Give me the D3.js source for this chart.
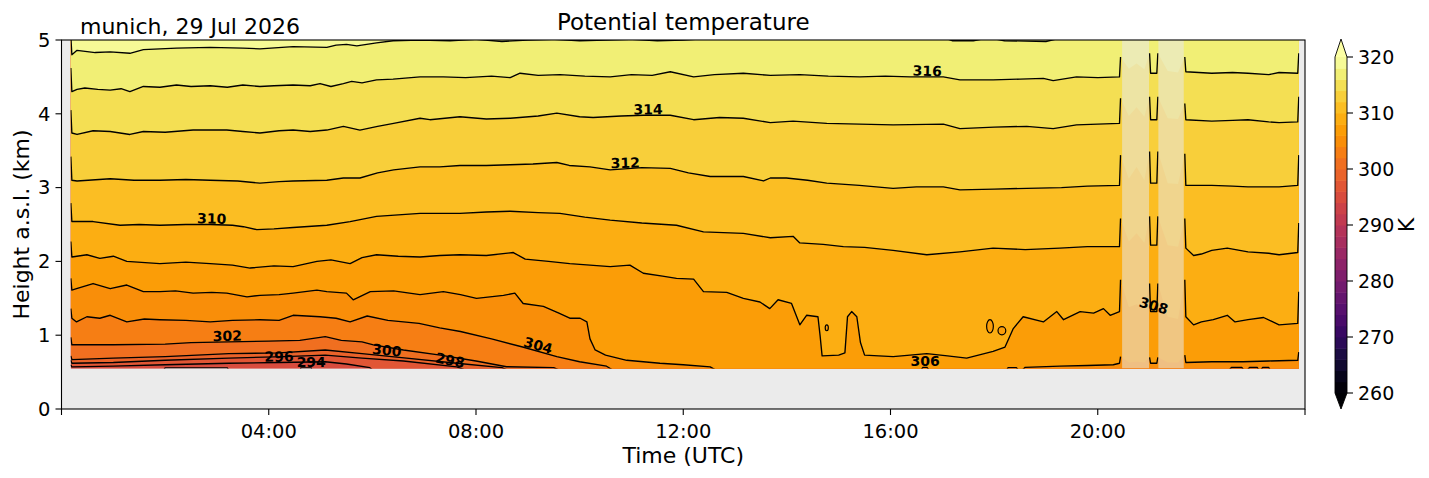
<!DOCTYPE html>
<html>
<head>
<meta charset="utf-8">
<script src="https://cdn.jsdelivr.net/npm/d3@7"></script>
<style>
  body { margin: 0; background: #fff; }
  text { font-family: "DejaVu Sans", sans-serif; fill: #000; }
</style>
</head>
<body>
<svg id="chart"></svg>
<script>
// axis ticks
const tickHours = [0, 4, 8, 12, 16, 20, 24];
const tickLabels = ["", "04:00", "08:00", "12:00", "16:00", "20:00", ""];
const heightTicks = [0, 1, 2, 3, 4, 5];
const colorTicks = [260, 270, 280, 290, 300, 310, 320];

// data extent (hours UTC, km)
const dataStart = 0.18, dataEnd = 23.88, dataBottom = 0.55;
// periods with no valid profile (shaded)
const maskedHours = [[20.47, 20.99], [21.17, 21.66]];

// height (km) of each isentrope against time (h)
const theta294 = [[0.18,0.5],[1.95,0.5],[2.0,0.557],[3.2,0.557],[3.25,0.5],[4.6,0.5],[4.62,0.557],[4.82,0.557],[4.84,0.5],[23.88,0.5]];
const theta296 = [[0.18,0.6],[0.2,0.57],[1.0,0.58],[2.0,0.6],[3.23,0.62],[4.2,0.63],[5.09,0.64],[5.5,0.61],[5.95,0.56],[6.05,0.5],[23.88,0.5]];
const theta298 = [[0.18,0.66],[0.2,0.62],[1.0,0.63],[2.0,0.66],[3.23,0.69],[4.3,0.71],[5.09,0.73],[5.8,0.69],[6.6,0.65],[7.63,0.57],[7.9,0.5],[23.88,0.5]];
const theta300 = [[0.18,0.72],[0.2,0.67],[1.0,0.69],[2.0,0.71],[3.23,0.75],[4.2,0.76],[5.09,0.8],[5.8,0.75],[6.66,0.69],[7.63,0.62],[8.5,0.56],[8.7,0.5],[23.88,0.5]];
const theta302 = [[0.18,0.97],[0.2,0.87],[1.0,0.87],[2.0,0.88],[2.5,0.9],[3.23,0.91],[4.0,0.92],[4.6,0.93],[5.09,0.98],[5.4,0.93],[5.8,0.91],[6.02,0.87],[6.6,0.8],[7.31,0.73],[8.0,0.65],[8.59,0.573],[9.5,0.56],[9.7,0.5],[23.88,0.5]];
const theta304 = [[0.18,1.36],[0.2,1.23],[0.29,1.18],[0.49,1.25],[0.74,1.23],[0.94,1.27],[1.26,1.18],[1.6,1.22],[1.9,1.21],[2.4,1.2],[2.87,1.18],[3.3,1.2],[3.83,1.21],[4.2,1.2],[4.47,1.27],[4.99,1.25],[5.3,1.23],[5.57,1.18],[5.9,1.26],[6.3,1.2],[6.9,1.16],[7.3,1.1],[7.7,1.05],[8.3,0.95],[8.9,0.84],[9.56,0.71],[10.0,0.64],[10.52,0.58],[10.7,0.5],[22.5,0.5],[22.58,0.562],[22.78,0.562],[22.85,0.5],[22.93,0.562],[23.08,0.562],[23.13,0.5],[23.18,0.562],[23.3,0.562],[23.35,0.5],[23.88,0.5]];
const theta306 = [[0.18,1.77],[0.2,1.61],[0.29,1.63],[0.61,1.7],[0.94,1.63],[1.26,1.68],[1.58,1.59],[1.9,1.59],[2.2,1.6],[2.54,1.57],[2.9,1.58],[3.19,1.57],[3.58,1.52],[3.83,1.54],[4.2,1.55],[4.47,1.57],[4.93,1.61],[5.12,1.59],[5.5,1.57],[5.63,1.48],[5.96,1.59],[6.41,1.6],[6.92,1.55],[7.37,1.59],[7.7,1.55],[8.01,1.5],[8.53,1.54],[8.75,1.57],[8.91,1.43],[9.3,1.39],[9.6,1.3],[9.81,1.23],[10.01,1.23],[10.14,1.18],[10.2,0.95],[10.3,0.8],[10.5,0.73],[10.91,0.66],[11.55,0.62],[12.0,0.6],[12.52,0.57],[12.7,0.5],[16.55,0.5],[16.63,0.565],[16.7,0.565],[16.78,0.5],[18.22,0.5],[18.27,0.56],[18.43,0.56],[18.5,0.5],[18.6,0.565],[19.27,0.58],[19.8,0.59],[20.3,0.6],[20.42,0.62],[20.44,0.71],[20.6,0.63],[20.75,0.64],[20.9,0.63],[21.0,0.7],[21.02,0.62],[21.14,0.62],[21.16,0.7],[21.35,0.63],[21.55,0.63],[21.68,0.73],[21.7,0.63],[22.2,0.64],[22.8,0.64],[23.3,0.65],[23.86,0.66],[23.88,0.77]];
const theta308 = [[0.18,2.27],[0.2,2.06],[0.49,2.09],[0.74,2.04],[1.0,2.07],[1.26,2.0],[1.9,1.97],[2.4,1.99],[2.87,1.97],[3.3,1.95],[3.64,1.91],[4.1,1.94],[4.47,1.93],[4.93,2.0],[5.2,2.02],[5.57,1.97],[5.8,2.05],[6.08,2.09],[6.5,2.07],[6.92,2.06],[7.3,2.08],[7.69,2.09],[8.2,2.08],[8.72,2.12],[8.95,2.03],[9.4,2.0],[9.81,1.97],[10.2,1.95],[10.59,1.93],[10.97,1.95],[11.23,1.84],[11.6,1.8],[11.87,1.77],[12.2,1.76],[12.39,1.59],[12.84,1.58],[13.16,1.5],[13.48,1.45],[13.67,1.36],[13.83,1.48],[14.09,1.43],[14.25,1.14],[14.38,1.27],[14.6,1.25],[14.64,1.0],[14.68,0.72],[15.0,0.73],[15.12,0.76],[15.17,1.25],[15.25,1.32],[15.35,1.25],[15.42,0.9],[15.5,0.73],[16.05,0.71],[16.7,0.75],[17.1,0.72],[17.47,0.69],[17.98,0.78],[18.21,0.84],[18.37,1.09],[18.56,1.25],[18.95,1.18],[19.21,1.32],[19.34,1.21],[19.66,1.32],[19.92,1.3],[20.11,1.36],[20.24,1.27],[20.42,1.32],[20.44,1.75],[20.6,1.38],[20.75,1.42],[20.9,1.36],[21.0,1.7],[21.02,1.32],[21.14,1.32],[21.16,1.7],[21.35,1.25],[21.55,1.22],[21.68,1.75],[21.7,1.25],[21.85,1.14],[22.0,1.18],[22.23,1.21],[22.5,1.27],[22.65,1.18],[22.9,1.21],[23.2,1.24],[23.5,1.14],[23.86,1.16],[23.88,1.59]];
const theta310 = [[0.18,2.79],[0.2,2.54],[0.61,2.54],[1.13,2.49],[1.5,2.5],[1.9,2.49],[2.4,2.5],[2.87,2.5],[3.3,2.49],[3.51,2.47],[3.77,2.43],[4.1,2.44],[4.47,2.46],[5.12,2.49],[5.57,2.54],[6.08,2.61],[6.5,2.63],[6.92,2.65],[7.69,2.65],[8.2,2.67],[8.66,2.68],[9.2,2.66],[9.62,2.65],[10.1,2.6],[10.59,2.56],[11.2,2.52],[11.87,2.49],[12.39,2.4],[13.16,2.38],[13.68,2.32],[14.12,2.34],[14.25,2.25],[14.7,2.23],[15.09,2.2],[15.5,2.19],[16.05,2.15],[16.7,2.09],[17.34,2.13],[17.98,2.18],[18.6,2.16],[19.27,2.18],[19.8,2.2],[20.42,2.2],[20.44,2.58],[20.6,2.27],[20.75,2.38],[20.9,2.25],[21.0,2.61],[21.02,2.22],[21.14,2.22],[21.16,2.61],[21.35,2.22],[21.55,2.2],[21.68,2.58],[21.7,2.18],[21.85,2.08],[22.0,2.1],[22.2,2.15],[22.5,2.18],[22.9,2.13],[23.3,2.11],[23.5,2.09],[23.86,2.12],[23.88,2.52]];
const theta312 = [[0.18,3.42],[0.2,3.1],[0.3,3.09],[0.94,3.12],[1.4,3.1],[1.9,3.1],[2.4,3.11],[2.87,3.1],[3.4,3.09],[3.83,3.06],[4.2,3.08],[4.47,3.09],[5.12,3.1],[5.44,3.13],[5.76,3.13],[6.1,3.2],[6.41,3.24],[6.92,3.28],[7.3,3.28],[7.69,3.3],[8.2,3.3],[8.66,3.31],[9.1,3.32],[9.56,3.34],[9.8,3.3],[10.2,3.28],[10.59,3.24],[11.2,3.27],[11.75,3.26],[12.1,3.2],[12.52,3.15],[13.16,3.15],[13.55,3.09],[13.68,3.13],[13.99,3.13],[14.4,3.1],[14.77,3.06],[15.4,3.03],[16.05,2.99],[16.5,3.01],[17.02,3.01],[17.34,2.97],[18.0,2.98],[18.63,2.99],[19.3,3.0],[19.8,3.02],[20.42,3.03],[20.44,3.44],[20.6,3.12],[20.75,3.28],[20.9,3.1],[21.0,3.49],[21.02,3.06],[21.14,3.06],[21.16,3.49],[21.35,3.06],[21.55,3.05],[21.68,3.46],[21.7,3.03],[22.2,3.03],[22.6,3.02],[22.9,3.01],[23.5,3.01],[23.86,3.03],[23.88,3.44]];
const theta314 = [[0.18,4.05],[0.2,3.74],[0.3,3.72],[0.61,3.77],[0.94,3.76],[1.32,3.72],[1.58,3.76],[2.0,3.75],[2.54,3.78],[3.19,3.78],[3.5,3.76],[3.83,3.74],[4.2,3.77],[4.47,3.78],[4.8,3.76],[5.12,3.78],[5.44,3.83],[5.76,3.78],[6.1,3.83],[6.41,3.87],[6.92,3.94],[7.11,3.92],[7.69,3.96],[8.2,3.93],[8.66,3.94],[9.2,3.97],[9.56,4.01],[10.0,3.96],[10.26,3.95],[10.8,3.97],[11.23,3.98],[11.75,3.98],[12.2,3.92],[12.7,3.95],[13.16,3.94],[13.68,3.88],[14.12,3.9],[14.77,3.87],[15.4,3.86],[16.05,3.85],[17.02,3.86],[17.34,3.8],[18.0,3.82],[18.63,3.83],[19.14,3.8],[19.59,3.85],[20.0,3.86],[20.42,3.87],[20.44,4.21],[20.6,3.97],[20.75,4.09],[20.9,3.96],[21.0,4.23],[21.02,3.92],[21.14,3.92],[21.16,4.23],[21.35,3.94],[21.55,3.93],[21.68,4.14],[21.7,3.92],[22.2,3.9],[22.6,3.91],[22.9,3.92],[23.3,3.89],[23.5,3.88],[23.86,3.89],[23.88,4.23]];
const theta316 = [[0.18,4.62],[0.2,4.3],[0.3,4.33],[0.45,4.35],[0.7,4.33],[0.94,4.32],[1.15,4.34],[1.32,4.3],[1.58,4.37],[1.9,4.36],[2.22,4.39],[2.5,4.37],[2.87,4.38],[3.2,4.36],[3.5,4.39],[3.83,4.37],[4.1,4.38],[4.47,4.39],[4.8,4.38],[4.99,4.41],[5.2,4.37],[5.44,4.41],[5.6,4.44],[5.8,4.42],[6.08,4.46],[6.4,4.47],[6.92,4.5],[7.37,4.5],[7.8,4.49],[8.3,4.51],[8.66,4.49],[8.85,4.55],[9.2,4.52],[9.62,4.53],[10.1,4.51],[10.59,4.5],[11.0,4.53],[11.4,4.52],[11.75,4.57],[12.2,4.5],[12.6,4.53],[13.16,4.55],[13.68,4.52],[14.25,4.53],[14.8,4.51],[15.41,4.5],[15.9,4.51],[16.38,4.5],[17.02,4.5],[17.34,4.46],[17.98,4.46],[18.5,4.47],[18.95,4.48],[19.14,4.45],[19.59,4.5],[20.0,4.49],[20.42,4.5],[20.44,4.77],[20.6,4.61],[20.75,4.68],[20.9,4.6],[21.0,4.82],[21.02,4.55],[21.14,4.55],[21.16,4.82],[21.35,4.58],[21.55,4.56],[21.68,4.77],[21.7,4.57],[22.2,4.55],[22.6,4.56],[22.9,4.55],[23.3,4.53],[23.5,4.56],[23.86,4.55],[23.88,4.82]];
const theta318 = [[0.18,5.05],[0.2,4.8],[0.3,4.86],[0.65,4.83],[0.94,4.84],[1.32,4.82],[1.58,4.87],[2.22,4.89],[2.87,4.9],[3.5,4.89],[3.83,4.88],[4.47,4.91],[5.12,4.9],[5.3,4.93],[5.5,4.94],[5.7,4.92],[6.08,4.96],[6.4,4.99],[6.92,5.0],[7.5,4.99],[8.0,5.01],[8.5,4.98],[9.0,5.0],[9.5,5.01],[10.0,4.99],[10.5,5.0],[11.0,5.01],[11.5,4.99],[12.0,5.0],[12.5,5.02],[13.0,5.06],[16.9,5.06],[17.2,4.99],[17.6,4.99],[17.9,5.03],[18.2,4.99],[19.0,4.98],[19.3,5.03],[19.5,5.07],[23.88,5.07]];

// small closed 308 K contours: [hour, km, half-width h, half-height km]
const islands308 = [[14.77, 1.10, 0.03, 0.04], [17.92, 1.12, 0.065, 0.09], [18.15, 1.06, 0.075, 0.055]];

// contour labels: [level, hour]
const contourLabels = [[316, 16.71], [314, 11.32], [312, 10.88], [310, 2.9], [308, 21.08], [306, 16.67],
                       [304, 9.2], [302, 3.2], [300, 6.28], [298, 7.5], [296, 4.2], [294, 4.82]];

const isentropes = [
  [294, theta294], [296, theta296], [298, theta298], [300, theta300], [302, theta302], [304, theta304],
  [306, theta306], [308, theta308], [310, theta310], [312, theta312], [314, theta314], [316, theta316], [318, theta318]
];

const width = 1429, height = 478;
const svg = d3.select("#chart").attr("width", width).attr("height", height);

const x = d3.scaleLinear().domain([0, 24]).range([61.5, 1305]);
const y = d3.scaleLinear().domain([0, 5]).range([409, 40]);
const cb = d3.scaleLinear().domain([260, 320]).range([393, 57]);

// colour of the layer between lvl and lvl+2
const bandColor = lvl => d3.interpolateInferno((lvl + 1 - 260) / 60);

// axes background
svg.append("rect")
  .attr("x", x(0)).attr("y", y(5))
  .attr("width", x(24) - x(0)).attr("height", y(0) - y(5))
  .attr("fill", "#ebebeb");

svg.append("clipPath").attr("id", "dataclip")
  .append("rect")
  .attr("x", x(dataStart - 0.005)).attr("y", y(5))
  .attr("width", x(dataEnd + 0.01) - x(dataStart - 0.005))
  .attr("height", y(dataBottom) - y(5));

const g = svg.append("g").attr("clip-path", "url(#dataclip)");

// lowest layer, then every isentrope paints the layer above it
g.append("rect")
  .attr("x", x(dataStart)).attr("y", y(5))
  .attr("width", x(dataEnd) - x(dataStart)).attr("height", y(dataBottom) - y(5))
  .attr("fill", bandColor(292));

const area = d3.area()
  .x(d => x(d[0]))
  .y0(d => y(d[1]))
  .y1(y(5.3));

g.selectAll("path.band")
  .data(isentropes)
  .enter()
  .append("path")
  .attr("class", "band")
  .attr("d", d => area(d[1]))
  .attr("fill", d => bandColor(d[0]));

const inMask = t => maskedHours.some(([a, b]) => t > a && t < b);

const line = d3.line()
  .defined(d => !inMask(d[0]))
  .x(d => x(d[0]))
  .y(d => y(d[1]));

g.selectAll("path.iso")
  .data(isentropes)
  .enter()
  .append("path")
  .attr("class", "iso")
  .attr("d", d => line(d[1]))
  .attr("fill", "none")
  .attr("stroke", "#000")
  .attr("stroke-width", 1.35)
  .attr("stroke-linejoin", "round");

g.selectAll("ellipse")
  .data(islands308)
  .enter()
  .append("ellipse")
  .attr("cx", d => x(d[0]))
  .attr("cy", d => y(d[1]))
  .attr("rx", d => x(d[0] + d[2]) - x(d[0]))
  .attr("ry", d => y(d[1]) - y(d[1] + d[3]))
  .attr("fill", bandColor(306))
  .attr("stroke", "#000")
  .attr("stroke-width", 1.2);

// shaded periods
g.selectAll("rect.mask")
  .data(maskedHours)
  .enter()
  .append("rect")
  .attr("class", "mask")
  .attr("x", d => x(d[0]))
  .attr("width", d => x(d[1]) - x(d[0]))
  .attr("y", y(5))
  .attr("height", y(dataBottom) - y(5))
  .attr("fill", "#e8e8e8")
  .attr("opacity", 0.55);

// contour labels
function heightAt(pts, t) {
  const i = d3.bisector(d => d[0]).left(pts, t);
  if (i <= 0) return pts[0][1];
  if (i >= pts.length) return pts[pts.length - 1][1];
  const a = pts[i - 1], b = pts[i];
  return a[1] + (b[1] - a[1]) * (t - a[0]) / (b[0] - a[0]);
}
const byLevel = new Map(isentropes);

svg.selectAll("text.clabel")
  .data(contourLabels)
  .enter()
  .append("text")
  .attr("class", "clabel")
  .attr("transform", d => {
    const pts = byLevel.get(d[0]);
    const h = heightAt(pts, d[1]);
    const dy = y(heightAt(pts, d[1] + 0.4)) - y(heightAt(pts, d[1] - 0.4));
    const ang = Math.max(-18, Math.min(18, Math.atan2(dy, x(d[1] + 0.4) - x(d[1] - 0.4)) * 180 / Math.PI));
    return `translate(${x(d[1])},${y(h) - 6}) rotate(${ang})`;
  })
  .attr("text-anchor", "middle")
  .attr("dy", "0.36em")
  .style("font-size", "14px")
  .style("font-weight", "bold")
  .text(d => d[0]);

// frame
svg.append("rect")
  .attr("x", x(0)).attr("y", y(5))
  .attr("width", x(24) - x(0)).attr("height", y(0) - y(5))
  .attr("fill", "none")
  .attr("stroke", "#000")
  .attr("stroke-width", 1.1);

// x axis
const xt = svg.selectAll("g.xt")
  .data(tickHours)
  .enter()
  .append("g")
  .attr("transform", d => `translate(${x(d)},${y(0)})`);
xt.append("line").attr("y2", 6).attr("stroke", "#000").attr("stroke-width", 1.1);
xt.append("text")
  .attr("y", 29)
  .attr("text-anchor", "middle")
  .style("font-size", "19.5px")
  .text((d, i) => tickLabels[i]);

// y axis
const yt = svg.selectAll("g.yt")
  .data(heightTicks)
  .enter()
  .append("g")
  .attr("transform", d => `translate(${x(0)},${y(d)})`);
yt.append("line").attr("x2", -6).attr("stroke", "#000").attr("stroke-width", 1.1);
yt.append("text")
  .attr("x", -11)
  .attr("dy", "0.35em")
  .attr("text-anchor", "end")
  .style("font-size", "19.5px")
  .text(d => d);

svg.append("text")
  .attr("x", (x(0) + x(24)) / 2).attr("y", 463)
  .attr("text-anchor", "middle")
  .style("font-size", "22px")
  .text("Time (UTC)");

svg.append("text")
  .attr("transform", `translate(29,${(y(0) + y(5)) / 2}) rotate(-90)`)
  .attr("text-anchor", "middle")
  .style("font-size", "22px")
  .text("Height a.s.l. (km)");

svg.append("text")
  .attr("x", (x(0) + x(24)) / 2).attr("y", 29.5)
  .attr("text-anchor", "middle")
  .style("font-size", "23px")
  .text("Potential temperature");

svg.append("text")
  .attr("x", 80).attr("y", 33.5)
  .style("font-size", "22px")
  .text("munich, 29 Jul 2026");

// colour bar
const cbX = 1335, cbW = 12;
const cbLevels = d3.range(260, 320, 2);
svg.selectAll("rect.cb")
  .data(cbLevels)
  .enter()
  .append("rect")
  .attr("class", "cb")
  .attr("x", cbX)
  .attr("y", d => cb(d + 2))
  .attr("width", cbW)
  .attr("height", d => cb(d) - cb(d + 2) + 0.5)
  .attr("fill", d => bandColor(d));

svg.append("path")
  .attr("d", `M${cbX},${cb(320)}L${cbX + cbW / 2},${cb(320) - 18}L${cbX + cbW},${cb(320)}Z`)
  .attr("fill", d3.interpolateInferno(1));
svg.append("path")
  .attr("d", `M${cbX},${cb(260)}L${cbX + cbW / 2},${cb(260) + 16}L${cbX + cbW},${cb(260)}Z`)
  .attr("fill", d3.interpolateInferno(0));
svg.append("path")
  .attr("d", `M${cbX},${cb(260)}L${cbX + cbW / 2},${cb(260) + 16}L${cbX + cbW},${cb(260)}` +
             `L${cbX + cbW},${cb(320)}L${cbX + cbW / 2},${cb(320) - 18}L${cbX},${cb(320)}Z`)
  .attr("fill", "none")
  .attr("stroke", "#000")
  .attr("stroke-width", 0.9);

const ct = svg.selectAll("g.ct")
  .data(colorTicks)
  .enter()
  .append("g")
  .attr("transform", d => `translate(${cbX + cbW},${cb(d)})`);
ct.append("line").attr("x2", 6).attr("stroke", "#000").attr("stroke-width", 1.1);
ct.append("text")
  .attr("x", 11)
  .attr("dy", "0.35em")
  .style("font-size", "19px")
  .text(d => d);

svg.append("text")
  .attr("transform", `translate(1414,${(cb(260) + cb(320)) / 2}) rotate(-90)`)
  .attr("text-anchor", "middle")
  .style("font-size", "22px")
  .text("K");
</script>
</body>
</html>
